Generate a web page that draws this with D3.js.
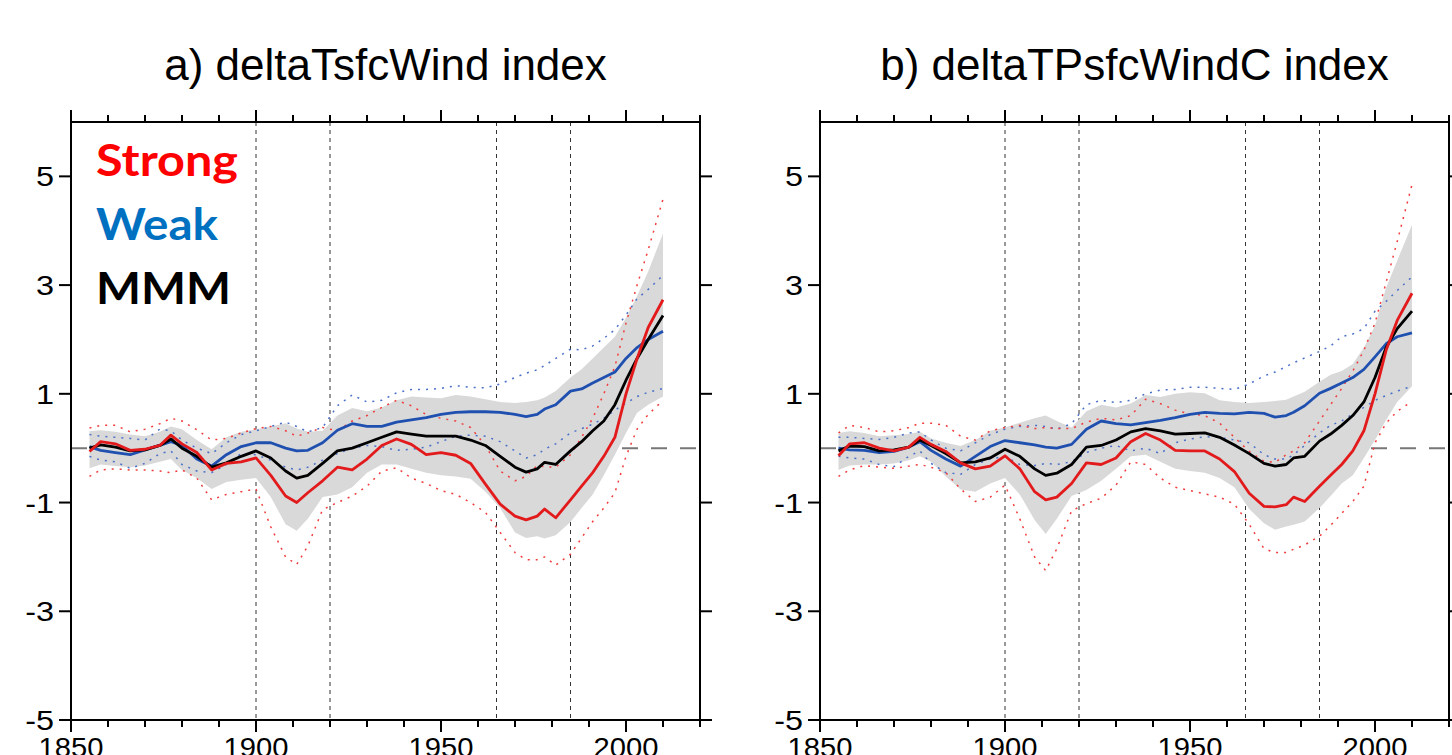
<!DOCTYPE html>
<meta charset="utf-8">

<!-- Load d3.js -->
<script src="https://d3js.org/d3.v7.min.js"></script>

<style>
  body { margin: 0; background: #fff; }
  svg { display: block; }
</style>

<div id="chart"></div>

<script>

// years sampled along the curves (shared by both panels)
var years = [1855, 1858, 1862, 1866, 1870, 1874, 1877, 1880, 1884, 1888,
             1892, 1896, 1900, 1904, 1908, 1911, 1914, 1918, 1922, 1926,
             1930, 1934, 1938, 1942, 1946, 1950, 1954, 1958, 1962, 1966,
             1970, 1973, 1976, 1978, 1981, 1985, 1988, 1991, 1994, 1997,
             2000, 2003, 2006, 2010];

// panel a) deltaTsfcWind index
var strongA   = [-0.06, 0.12, 0.08, -0.04, -0.02, 0.05, 0.24, 0.08, -0.08, -0.40,
                 -0.28, -0.25, -0.18, -0.50, -0.88, -1.00, -0.82, -0.60, -0.35, -0.40,
                 -0.20, 0.05, 0.17, 0.07, -0.12, -0.08, -0.13, -0.28, -0.66, -1.03,
                 -1.25, -1.32, -1.25, -1.12, -1.28, -0.95, -0.70, -0.45, -0.15, 0.20,
                 1.00, 1.65, 2.22, 2.73];
var mmmA      = [0.00, 0.06, 0.02, -0.05, -0.03, 0.05, 0.17, 0.00, -0.15, -0.35,
                 -0.27, -0.15, -0.05, -0.18, -0.42, -0.55, -0.50, -0.28, -0.05, 0.00,
                 0.10, 0.20, 0.30, 0.26, 0.22, 0.22, 0.22, 0.15, 0.05, -0.15,
                 -0.35, -0.44, -0.38, -0.26, -0.30, -0.05, 0.12, 0.32, 0.50, 0.80,
                 1.25, 1.65, 2.00, 2.44];
var weakA     = [0.03, -0.04, -0.08, -0.12, -0.03, 0.05, 0.12, 0.05, -0.20, -0.33,
                 -0.12, 0.03, 0.10, 0.10, 0.00, -0.05, -0.04, 0.10, 0.33, 0.45,
                 0.40, 0.40, 0.48, 0.52, 0.56, 0.62, 0.66, 0.67, 0.67, 0.66,
                 0.62, 0.58, 0.62, 0.72, 0.80, 1.05, 1.09, 1.20, 1.30, 1.40,
                 1.65, 1.85, 2.00, 2.15];
var bandHiA   = [0.31, 0.33, 0.30, 0.25, 0.22, 0.30, 0.40, 0.35, 0.15, -0.02,
                 0.20, 0.30, 0.35, 0.40, 0.46, 0.36, 0.30, 0.32, 0.60, 0.74,
                 0.68, 0.75, 0.88, 0.95, 0.93, 0.92, 0.98, 0.95, 0.90, 0.85,
                 0.83, 0.85, 0.88, 0.93, 1.05, 1.30, 1.45, 1.65, 1.85, 2.05,
                 2.40, 2.80, 3.25, 3.95];
var bandLoA   = [-0.37, -0.30, -0.33, -0.35, -0.32, -0.25, -0.20, -0.40, -0.55, -0.75,
                 -0.62, -0.58, -0.55, -0.90, -1.40, -1.52, -1.30, -0.90, -0.85, -0.72,
                 -0.45, -0.30, -0.30, -0.38, -0.45, -0.50, -0.52, -0.56, -0.80, -1.10,
                 -1.55, -1.65, -1.62, -1.66, -1.60, -1.36, -1.10, -0.85, -0.50, -0.12,
                 0.28, 0.65, 0.80, 0.95];
var strongHiA = [0.37, 0.42, 0.42, 0.30, 0.35, 0.45, 0.55, 0.50, 0.34, 0.15,
                 0.18, 0.28, 0.36, 0.40, 0.32, 0.22, 0.28, 0.38, 0.32, 0.50,
                 0.60, 0.75, 0.88, 0.78, 0.62, 0.55, 0.50, 0.38, 0.05, -0.42,
                 -0.60, -0.52, -0.32, -0.34, -0.35, -0.12, 0.20, 0.55, 1.00, 1.50,
                 2.30, 3.00, 3.65, 4.58];
var strongLoA = [-0.52, -0.40, -0.38, -0.40, -0.40, -0.42, -0.45, -0.40, -0.55, -0.95,
                 -0.85, -0.80, -0.75, -1.45, -2.00, -2.14, -1.80, -1.13, -1.00, -0.88,
                 -0.70, -0.42, -0.36, -0.55, -0.65, -0.78, -0.85, -1.00, -1.18, -1.55,
                 -1.92, -2.05, -2.05, -2.00, -2.15, -1.95, -1.65, -1.35, -1.10, -0.82,
                 -0.15, 0.35, 0.62, 0.88];
var weakHiA   = [0.25, 0.22, 0.20, 0.18, 0.15, 0.35, 0.32, 0.15, 0.00, -0.10,
                 0.10, 0.25, 0.32, 0.40, 0.48, 0.40, 0.30, 0.38, 0.78, 0.98,
                 0.85, 0.88, 1.02, 1.08, 1.08, 1.10, 1.15, 1.12, 1.11, 1.18,
                 1.30, 1.38, 1.44, 1.52, 1.65, 1.82, 1.81, 1.88, 2.02, 2.18,
                 2.45, 2.75, 2.92, 3.18];
var weakLoA   = [-0.15, -0.22, -0.25, -0.37, -0.28, -0.10, -0.05, -0.30, -0.42, -0.45,
                 -0.30, -0.10, -0.12, -0.22, -0.35, -0.40, -0.35, -0.22, -0.10, 0.00,
                 0.05, 0.03, -0.04, -0.02, 0.02, 0.12, 0.22, 0.24, 0.22, 0.12,
                 -0.05, -0.18, -0.12, -0.02, 0.08, 0.28, 0.36, 0.44, 0.55, 0.70,
                 0.83, 0.95, 1.03, 1.10];

// panel b) deltaTPsfcWindC index
var strongB   = [-0.14, 0.08, 0.10, 0.00, -0.05, 0.02, 0.20, 0.07, -0.06, -0.27,
                 -0.38, -0.33, -0.14, -0.38, -0.80, -0.95, -0.90, -0.65, -0.27, -0.30,
                 -0.18, 0.12, 0.27, 0.15, -0.04, -0.05, -0.05, -0.20, -0.43, -0.83,
                 -1.07, -1.08, -1.04, -0.90, -0.98, -0.70, -0.50, -0.30, -0.05, 0.32,
                 1.00, 1.80, 2.35, 2.85];
var mmmB      = [-0.05, 0.04, 0.03, -0.05, -0.03, 0.02, 0.15, 0.05, -0.10, -0.27,
                 -0.25, -0.18, -0.02, -0.15, -0.38, -0.50, -0.46, -0.30, 0.02, 0.05,
                 0.15, 0.30, 0.36, 0.32, 0.26, 0.27, 0.28, 0.20, 0.06, -0.10,
                 -0.28, -0.33, -0.30, -0.18, -0.15, 0.13, 0.26, 0.42, 0.60, 0.85,
                 1.30, 1.85, 2.20, 2.52];
var weakB     = [0.00, -0.03, -0.04, -0.08, -0.06, 0.02, 0.12, -0.04, -0.20, -0.33,
                 -0.15, 0.03, 0.14, 0.10, 0.06, 0.02, 0.00, 0.07, 0.35, 0.50,
                 0.45, 0.43, 0.47, 0.51, 0.56, 0.62, 0.66, 0.64, 0.63, 0.66,
                 0.64, 0.57, 0.60, 0.66, 0.78, 1.01, 1.10, 1.20, 1.30, 1.45,
                 1.68, 1.92, 2.05, 2.12];
var bandHiB   = [0.28, 0.31, 0.28, 0.22, 0.24, 0.26, 0.30, 0.18, 0.10, 0.04,
                 0.15, 0.32, 0.38, 0.47, 0.55, 0.60, 0.50, 0.38, 0.68, 0.80,
                 0.75, 0.82, 0.98, 0.94, 1.00, 1.03, 1.01, 0.88, 0.85, 0.83,
                 0.85, 0.87, 0.89, 0.95, 1.04, 1.22, 1.35, 1.42, 1.55, 1.85,
                 2.25, 2.95, 3.45, 4.11];
var bandLoB   = [-0.40, -0.32, -0.30, -0.30, -0.28, -0.22, -0.15, -0.25, -0.52, -0.76,
                 -0.80, -0.65, -0.55, -0.85, -1.32, -1.58, -1.30, -0.88, -0.77, -0.60,
                 -0.38, -0.15, -0.12, -0.25, -0.38, -0.42, -0.45, -0.55, -0.72, -1.12,
                 -1.38, -1.50, -1.44, -1.41, -1.35, -1.10, -0.88, -0.65, -0.50, -0.18,
                 0.15, 0.52, 0.85, 1.14];
var strongHiB = [0.28, 0.42, 0.38, 0.30, 0.32, 0.38, 0.46, 0.46, 0.42, 0.22,
                 0.15, 0.32, 0.38, 0.42, 0.36, 0.38, 0.36, 0.36, 0.48, 0.55,
                 0.52, 0.60, 0.90, 0.82, 0.70, 0.63, 0.60, 0.46, 0.20, -0.06,
                 -0.24, -0.26, -0.12, -0.05, 0.10, 0.50, 0.80, 1.10, 1.42, 1.80,
                 2.30, 3.05, 3.80, 4.85];
var strongLoB = [-0.52, -0.40, -0.32, -0.35, -0.37, -0.33, -0.30, -0.35, -0.45, -0.75,
                 -0.98, -0.90, -0.68, -1.30, -2.00, -2.25, -1.85, -1.15, -1.02, -0.92,
                 -0.68, -0.25, -0.30, -0.55, -0.72, -0.78, -0.84, -0.90, -1.03, -1.40,
                 -1.85, -1.92, -1.92, -1.86, -1.78, -1.62, -1.42, -1.20, -0.98, -0.70,
                 0.10, 0.46, 0.68, 0.86];
var weakHiB   = [0.20, 0.20, 0.18, 0.16, 0.20, 0.28, 0.30, 0.15, 0.00, -0.05,
                 0.10, 0.25, 0.35, 0.40, 0.42, 0.40, 0.35, 0.45, 0.80, 0.88,
                 0.84, 0.88, 1.00, 1.07, 1.08, 1.12, 1.12, 1.10, 1.08, 1.18,
                 1.33, 1.40, 1.50, 1.57, 1.66, 1.78, 1.88, 2.05, 2.10, 2.20,
                 2.52, 2.70, 2.90, 3.15];
var weakLoB   = [-0.15, -0.18, -0.20, -0.30, -0.34, -0.15, -0.05, -0.28, -0.45, -0.48,
                 -0.30, -0.20, -0.15, -0.30, -0.32, -0.28, -0.30, -0.25, -0.08, 0.00,
                 0.05, -0.05, 0.00, -0.10, 0.10, 0.17, 0.21, 0.20, 0.15, 0.10,
                 -0.12, -0.20, -0.20, -0.12, 0.05, 0.28, 0.42, 0.50, 0.63, 0.75,
                 0.88, 0.97, 1.05, 1.14];

// axis ticks / labels
var xTicks = d3.range(1850, 2021, 10);
var xLabels = [1850, 1900, 1950, 2000];
var yLabels = [5, 3, 1, -1, -3, -5];
var periodLines = [1900, 1920, 1965, 1985];

var legendItems = [
  {name: "Strong", color: "#ff0000", width: 142},
  {name: "Weak",   color: "#0070c0", width: 122},
  {name: "MMM",    color: "#000000", width: 135}
];

var panels = [
  {title: "a) deltaTsfcWind index", left: 71, legend: true,
   strong: strongA, mmm: mmmA, weak: weakA, bandHi: bandHiA, bandLo: bandLoA,
   strongHi: strongHiA, strongLo: strongLoA, weakHi: weakHiA, weakLo: weakLoA},
  {title: "b) deltaTPsfcWindC index", left: 820, legend: false,
   strong: strongB, mmm: mmmB, weak: weakB, bandHi: bandHiB, bandLo: bandLoB,
   strongHi: strongHiB, strongLo: strongLoB, weakHi: weakHiB, weakLo: weakLoB}
];

var W = 1452, H = 755;
var plotW = 629, plotTop = 122, plotBottom = 720;
var tickFont = "'Liberation Sans', Arial, sans-serif";

var svg = d3.select("#chart")
  .append("svg")
    .attr("width", W)
    .attr("height", H);

panels.forEach(function(p) {

  var x = d3.scaleLinear().domain([1850, 2020]).range([p.left, p.left + plotW]);
  var y = d3.scaleLinear().domain([-5, 6]).range([plotBottom, plotTop]);
  var g = svg.append("g");

  // title
  g.append("text")
    .attr("x", (x(1850) + x(2020)) / 2)
    .attr("y", 80)
    .attr("text-anchor", "middle")
    .style("font-family", tickFont)
    .style("font-size", "44px")
    .text(p.title);

  // zero line and period markers (under the spread band)
  g.append("line")
    .attr("x1", x(1850)).attr("x2", x(2020))
    .attr("y1", y(0)).attr("y2", y(0))
    .attr("stroke", "#777")
    .attr("stroke-width", 2)
    .style("stroke-dasharray", "16, 13");

  g.selectAll("line.period")
    .data(periodLines)
    .enter()
    .append("line")
    .attr("class", "period")
    .attr("x1", function(d){ return x(d) })
    .attr("x2", function(d){ return x(d) })
    .attr("y1", plotTop)
    .attr("y2", plotBottom)
    .attr("stroke", "#333")
    .attr("stroke-width", 1)
    .style("stroke-dasharray", "4, 4");

  // grey spread band
  var area = d3.area()
    .x(function(d, i){ return x(years[i]) })
    .y0(function(d, i){ return y(p.bandLo[i]) })
    .y1(function(d, i){ return y(p.bandHi[i]) });
  g.append("path")
    .datum(years)
    .attr("d", area)
    .attr("fill", "#d9d9d9");

  // dotted ranges + solid means
  var series = [
    {vals: p.weakHi,   color: "#4a70c8", width: 1.5, dash: "2, 6"},
    {vals: p.weakLo,   color: "#4a70c8", width: 1.5, dash: "2, 6"},
    {vals: p.strongHi, color: "#f03c3c", width: 1.5, dash: "2, 6"},
    {vals: p.strongLo, color: "#f03c3c", width: 1.5, dash: "2, 6"},
    {vals: p.weak,     color: "#1f50b0", width: 2.8, dash: null},
    {vals: p.mmm,      color: "#000000", width: 2.8, dash: null},
    {vals: p.strong,   color: "#e31a1c", width: 2.8, dash: null}
  ];

  series.forEach(function(s) {
    g.append("path")
      .datum(s.vals)
      .attr("d", d3.line()
        .x(function(d, i){ return x(years[i]) })
        .y(function(d){ return y(d) })
      )
      .attr("fill", "none")
      .attr("stroke", s.color)
      .attr("stroke-width", s.width)
      .attr("stroke-linejoin", "round")
      .style("stroke-dasharray", s.dash);
  });

  // frame
  g.append("rect")
    .attr("x", x(1850))
    .attr("y", plotTop)
    .attr("width", plotW)
    .attr("height", plotBottom - plotTop)
    .attr("fill", "none")
    .attr("stroke", "#000")
    .attr("stroke-width", 2);

  // x ticks on top and bottom, pointing outwards
  xTicks.forEach(function(t) {
    var len = ((t - 1850) % 50 === 0) ? 12 : 7;
    g.append("line")
      .attr("x1", x(t)).attr("x2", x(t))
      .attr("y1", plotTop).attr("y2", plotTop - len)
      .attr("stroke", "#000").attr("stroke-width", 2);
    g.append("line")
      .attr("x1", x(t)).attr("x2", x(t))
      .attr("y1", plotBottom).attr("y2", plotBottom + len)
      .attr("stroke", "#000").attr("stroke-width", 2);
  });

  // y ticks on left and right
  yLabels.forEach(function(v) {
    g.append("line")
      .attr("x1", x(1850) - 12).attr("x2", x(1850))
      .attr("y1", y(v)).attr("y2", y(v))
      .attr("stroke", "#000").attr("stroke-width", 2);
    g.append("line")
      .attr("x1", x(2020)).attr("x2", x(2020) + 12)
      .attr("y1", y(v)).attr("y2", y(v))
      .attr("stroke", "#000").attr("stroke-width", 2);
    g.append("text")
      .attr("transform", "translate(" + (x(1850) - 17) + "," + (y(v) + 10) + ") scale(1.2,1)")
      .attr("text-anchor", "end")
      .style("font-family", tickFont)
      .style("font-size", "27px")
      .text(v);
  });

  // x labels (cut off by the picture edge, as in the original)
  xLabels.forEach(function(t) {
    g.append("text")
      .attr("transform", "translate(" + x(t) + "," + 757 + ") scale(1.08,1)")
      .attr("text-anchor", "middle")
      .style("font-family", tickFont)
      .style("font-size", "27px")
      .text(t);
  });

  // legend
  if (p.legend) {
    g.selectAll("text.legend")
      .data(legendItems)
      .enter()
      .append("text")
      .attr("class", "legend")
      .attr("x", 96)
      .attr("y", function(d, i){ return 176 + i * 64 })
      .attr("textLength", function(d){ return d.width })
      .attr("lengthAdjust", "spacingAndGlyphs")
      .style("font-family", "Lato, 'Open Sans', sans-serif")
      .style("font-weight", "bold")
      .style("font-size", "43px")
      .style("fill", function(d){ return d.color })
      .text(function(d){ return d.name });
  }
});

</script>
